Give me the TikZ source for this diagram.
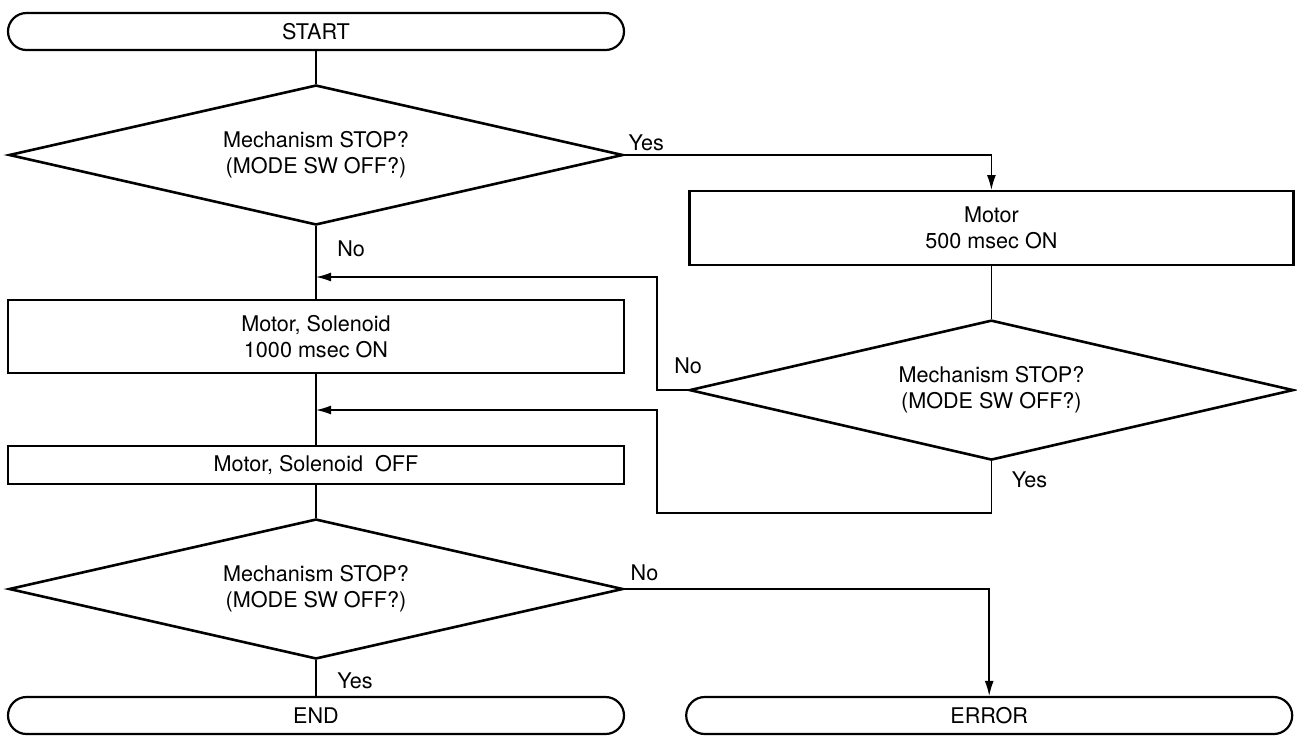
\documentclass[tikz,border=0pt]{standalone}
\usepackage{fontspec}
\setmainfont{TeX Gyre Heros}
\usetikzlibrary{arrows.meta,positioning,shapes.geometric}

\begin{document}
\begin{tikzpicture}[
  x=0.5pt,y=-0.5pt,
  font=\fontsize{10.8}{13}\selectfont,
  term/.style={draw,line width=1.1pt,rounded corners=9.25pt,minimum height=18.5pt,minimum width=308pt,inner sep=0pt},
  box/.style={draw,line width=1.1pt,minimum width=308pt,align=center,inner sep=0pt},
  cond/.style={draw,diamond,aspect=4.4,line width=1.3pt,minimum width=307pt,minimum height=70pt,align=center,inner sep=0pt},
  link/.style={draw,line width=0.75pt},
  arr/.style={-{Latex[length=7.5pt,width=4.5pt]},draw,line width=0.75pt},
  lbl/.style={inner sep=0pt},
]
\useasboundingbox (0,0) rectangle (1297,735);
\node[term] (start) at (316,31.5) {START};
\node[cond, below=16.3pt of start] (ask1) {Mechanism STOP?\\(MODE SW OFF?)};
\node[box, minimum height=36.5pt, below=36.3pt of ask1] (solon) {Motor, Solenoid\\1000 msec ON};
\node[box, minimum height=19pt, below=35.4pt of solon] (soloff) {Motor, Solenoid~~OFF};
\node[cond, below=16.3pt of soloff] (ask3) {Mechanism STOP?\\(MODE SW OFF?)};
\node[term, below=17.8pt of ask3] (finish) {END};
\node[term, minimum width=303pt, right=30pt of finish] (error) {ERROR};

\node[box, minimum width=302pt, minimum height=37pt, below right=17.5pt and 32pt of ask1.east] (motor) {Motor\\500 msec ON};
\node[cond, minimum width=302pt, below=26.3pt of motor] (ask2) {Mechanism STOP?\\(MODE SW OFF?)};

\coordinate (j1) at (316,277);
\coordinate (j2) at (316,410);

\node[lbl, above right=2pt and 2pt of ask1.east] (yes1) {Yes};
\node[lbl, below right=7pt and 10.5pt of ask1.south] (no1) {No};
\node[lbl, above=8pt of ask2.west] (no2) {No};
\node[lbl, below right=5pt and 10pt of ask2.south] (yes2) {Yes};
\node[lbl, above right=4pt and 3pt of ask3.east] (no3) {No};
\node[lbl, below right=6pt and 10.5pt of ask3.south] (yes3) {Yes};

\draw[link] (start) -- (ask1);
\draw[link] (ask1) -- (solon);
\draw[link] (solon) -- (soloff);
\draw[link] (soloff) -- (ask3);
\draw[link] (ask3) -- (finish);
\draw[link] (motor) -- (ask2);
\draw[arr] (ask1.east) -| (motor.north);
\draw[arr] (ask3.east) -| (error.north);
\draw[arr] (ask2.west) -- ++(-31,0) |- (j1);
\draw[arr] (ask2.south) |- (657,513) |- (j2);
\end{tikzpicture}
\end{document}
